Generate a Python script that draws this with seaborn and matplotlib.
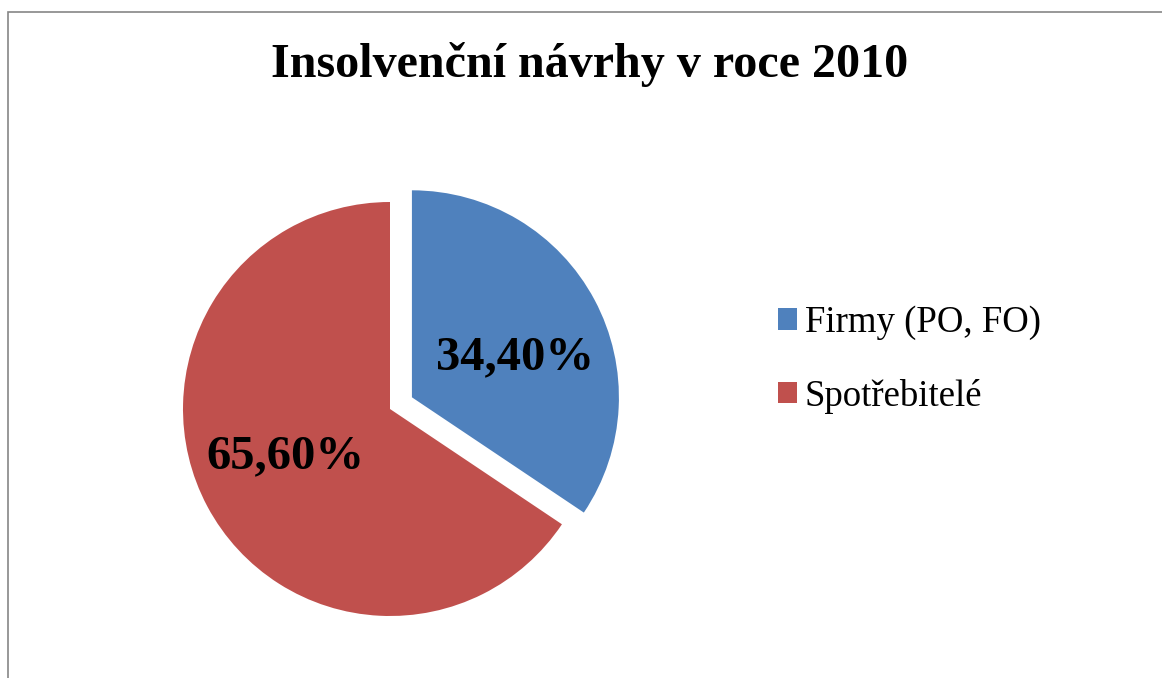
import matplotlib
matplotlib.use("Agg")
import matplotlib.pyplot as plt
import seaborn as sns
from matplotlib.patches import Rectangle

categories = ["Firmy (PO, FO)", "Spotřebitelé"]
shares = [34.40, 65.60]
colors = ["#4F81BD", "#C0504D"]
title = "Insolvenční návrhy v roce 2010"

sns.set_theme(style="white")
plt.rcParams["font.family"] = ["Liberation Serif", "DejaVu Serif"]
plt.rcParams["text.color"] = "black"

W, H = 1162, 678
fig = plt.figure(figsize=(W / 100, H / 100), dpi=100)
fig.patch.set_facecolor("white")

# axes: pie center at (390, 409) px from top-left, radius 207 px
R = 207
lim = 1.3
side = 2 * lim * R
cx, cy = 390, H - 409
ax = fig.add_axes([(cx - side / 2) / W, (cy - side / 2) / H, side / W, side / H])

wedges, texts, autotexts = ax.pie(
    shares,
    colors=colors,
    startangle=90,
    counterclock=False,
    explode=[0.12, 0.0],
    autopct=lambda p: f"{p:.2f}%".replace(".", ","),
    pctdistance=0.56,
    wedgeprops=dict(linewidth=0),
    textprops=dict(fontsize=35, fontweight="bold", color="black"),
)
# fine-tune label placement to match the reference
autotexts[0].set_position((0.604, 0.251))
autotexts[1].set_position((-0.505, -0.227))

ax.set_xlim(-lim, lim)
ax.set_ylim(-lim, lim)
ax.set_aspect("equal")
ax.axis("off")

fig.text(590 / W, 1 - 77 / H, title, ha="center", va="baseline",
         fontsize=34.6, fontweight="bold", color="black")

leg = fig.legend(wedges, categories, loc="center left",
                 bbox_to_anchor=(763 / W, 1 - 359.5 / H),
                 frameon=False, fontsize=26.5,
                 handlelength=0.52, handleheight=0.52, handletextpad=0.22,
                 labelspacing=1.05, borderaxespad=0)
for t in leg.get_texts():
    t.set_color("black")

fig.add_artist(Rectangle((7.5 / W, -0.1), 1.2, 1.1 - 12.5 / H,
                         transform=fig.transFigure, fill=False,
                         edgecolor="#868686", linewidth=1.2))

fig.savefig("out.png", dpi=100)
